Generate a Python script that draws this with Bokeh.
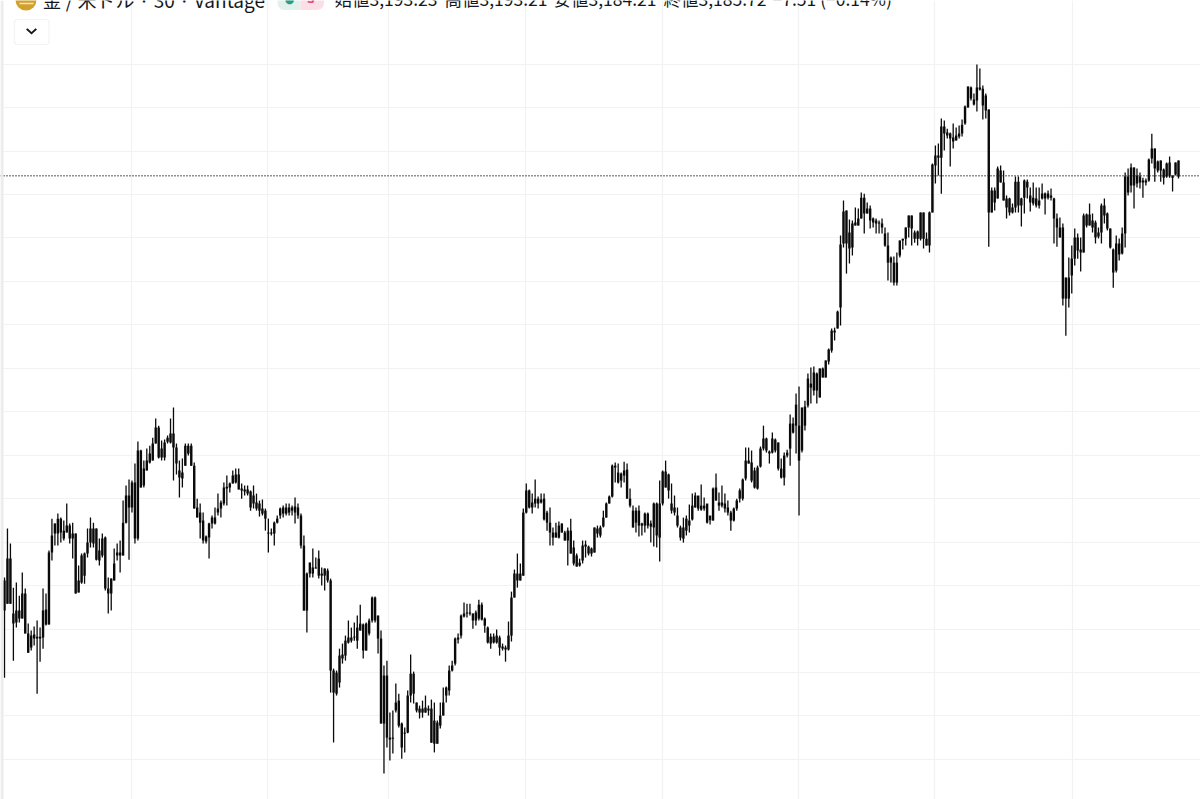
from bokeh.plotting import figure
from bokeh.embed import file_html
from bokeh.resources import INLINE
from bokeh.models import Label, Span, BoxAnnotation, PolyAnnotation, FixedTicker, Range1d

title_text = "金 / 米ドル · 30 · Vantage"
ohlc_parts = ["始値3,193.23", "高値3,193.21", "安値3,184.21", "終値3,185.72", "−7.51 (−0.14%)"]
last_close = 3185.72
price_ticks = [2850, 2875, 2900, 2925, 2950, 2975, 3000, 3025, 3050, 3075, 3100, 3125, 3150, 3175, 3200, 3225, 3250]
session_ticks = [42.7, 88.7, 129.5, 175.7, 221.9, 267.8, 313.7, 360.2]

highs = [
2954.6,2982.8,2974.2,2948.8,2951.7,2944.2,2957.5,2948.3,2928.1,2924.1,
2926.4,2929.9,2925.8,2948.3,2945.4,2970.1,2988.5,2985.7,2991.4,2989.1,
2987.4,2997.2,2985.7,2986.2,2979.9,2961.5,2968.4,2969.0,2982.8,2989.1,
2986.2,2982.8,2977.0,2979.9,2978.2,2954.6,2954.0,2971.3,2974.2,2975.9,
2998.9,3007.5,3011.0,3010.4,3020.2,3032.9,3028.2,3021.9,3028.8,3030.5,
3035.1,3046.1,3042.0,3033.4,3034.0,3036.3,3046.1,3052.4,3031.7,3021.9,
3023.1,3031.7,3031.7,3031.7,3020.8,3000.0,2997.2,2992.0,2978.8,2986.2,
2990.3,2994.9,3002.9,2998.9,3009.3,3013.3,3009.3,3016.2,3017.3,3017.3,
3008.7,3007.5,3007.5,3004.7,3007.5,3002.9,2998.9,2999.5,2994.3,2988.5,
2982.8,2986.8,2990.3,2994.9,2996.0,2997.2,2997.2,2996.0,3000.6,2997.2,
2991.4,2978.8,2957.5,2963.2,2971.3,2966.1,2970.1,2960.4,2959.8,2959.8,
2954.0,2902.2,2901.1,2913.7,2916.6,2921.2,2929.9,2925.8,2928.7,2932.7,
2939.0,2928.1,2928.7,2931.0,2943.7,2943.7,2932.7,2924.1,2904.0,2906.8,
2876.9,2878.1,2893.6,2887.8,2871.2,2868.3,2889.6,2910.3,2900.5,2882.7,
2880.9,2883.8,2886.7,2881.0,2884.4,2882.7,2872.3,2882.7,2891.3,2891.9,
2904.0,2906.8,2920.1,2922.4,2933.3,2940.2,2939.6,2939.6,2933.9,2935.6,
2941.9,2940.2,2931.6,2926.4,2922.4,2922.4,2924.7,2921.2,2916.6,2915.5,
2929.3,2946.5,2959.2,2968.4,2962.7,2994.3,3008.7,3005.2,3002.9,3011.0,
3001.2,3002.9,3002.9,2993.1,2994.9,2983.4,2986.2,2986.8,2985.7,2981.6,
2983.4,2988.5,2975.9,2968.4,2965.5,2975.9,2975.9,2973.0,2971.9,2983.4,
2984.5,2984.5,2993.1,2997.8,3001.8,3019.6,3020.8,3020.2,3015.0,3021.3,
3020.2,3005.8,2996.0,2994.9,2996.0,2986.2,2992.0,2992.0,2987.4,2997.8,
2997.8,3010.4,3016.2,3021.9,3014.4,3008.7,3001.8,2994.9,2984.5,2989.1,
2990.3,2996.6,3002.9,3003.5,3000.0,3008.1,3000.6,2996.0,2987.4,3006.4,
3014.4,3003.5,3007.5,3002.9,2998.9,2993.1,2994.9,3000.0,3005.8,3011.6,
3029.4,3029.4,3027.7,3017.9,3019.0,3030.0,3042.0,3035.1,3027.7,3038.0,
3034.6,3032.3,3023.1,3026.5,3028.2,3048.4,3046.7,3060.5,3064.5,3052.4,
3056.4,3072.0,3075.4,3076.0,3072.6,3074.9,3075.4,3079.5,3086.4,3097.9,
3098.4,3108.2,3151.4,3171.5,3165.8,3160.6,3160.0,3167.5,3166.9,3176.1,
3175.5,3170.4,3168.6,3161.7,3161.2,3160.0,3161.2,3156.0,3153.1,3139.3,
3139.3,3141.6,3148.5,3149.6,3156.0,3162.9,3162.9,3154.3,3154.3,3164.6,
3164.6,3153.1,3165.2,3192.8,3203.2,3204.3,3218.7,3217.6,3212.9,3210.7,
3215.8,3213.5,3214.7,3218.1,3226.2,3237.1,3237.1,3233.1,3249.8,3247.5,
3237.7,3233.1,3223.9,3179.0,3179.0,3191.1,3191.7,3188.8,3174.4,3173.2,
3169.8,3185.3,3185.3,3173.2,3183.6,3183.6,3179.0,3181.9,3179.0,3179.0,
3181.3,3176.1,3177.3,3178.4,3173.2,3164.0,3161.7,3158.3,3127.2,3138.7,
3145.6,3155.4,3152.5,3150.2,3164.0,3164.0,3169.8,3164.0,3160.0,3156.0,
3169.8,3172.7,3164.6,3155.4,3143.9,3151.4,3149.7,3156.0,3187.6,3189.9,
3192.8,3190.5,3189.9,3187.6,3184.7,3184.2,3195.7,3210.0,3201.4,3194.5,
3194.5,3189.9,3193.4,3196.8,3185.9,3193.4,3194.5]

lows = [
2897.0,2939.6,2939.6,2906.8,2925.8,2928.7,2931.0,2922.4,2911.4,2912.6,
2915.5,2887.8,2906.2,2913.7,2927.0,2927.6,2964.4,2973.0,2973.0,2974.7,
2975.9,2980.5,2974.2,2965.5,2945.4,2946.0,2951.1,2951.1,2966.1,2971.9,
2971.9,2964.4,2961.5,2966.1,2947.1,2933.9,2935.6,2952.9,2964.4,2957.5,
2967.3,2985.7,2964.9,2992.0,2974.2,2975.9,3006.4,3006.4,3016.2,3020.2,
3021.9,3031.7,3023.1,3021.9,3021.9,3031.7,3031.7,3010.4,3013.9,3000.6,
3006.4,3019.0,3024.8,3019.0,2994.3,2989.1,2977.0,2974.2,2974.2,2965.5,
2982.8,2985.1,2990.3,2989.1,2996.0,2996.0,3003.5,3008.7,3008.7,3005.2,
3000.0,3001.8,3001.8,2993.1,2994.3,2993.1,2989.7,2990.3,2981.6,2969.0,
2978.8,2973.0,2985.7,2988.5,2989.1,2990.3,2990.3,2990.3,2985.7,2988.5,
2971.3,2935.6,2923.0,2954.6,2954.6,2959.8,2954.0,2950.0,2947.1,2951.7,
2888.4,2859.7,2886.7,2891.3,2905.1,2906.8,2916.6,2917.2,2918.3,2913.7,
2924.1,2908.0,2912.6,2921.2,2928.7,2928.7,2910.9,2870.6,2841.8,2856.8,
2849.3,2853.3,2876.9,2868.3,2850.4,2854.0,2865.0,2882.7,2882.1,2877.0,
2873.5,2874.0,2876.9,2875.2,2859.6,2854.0,2859.0,2867.7,2875.2,2882.7,
2886.7,2900.5,2904.0,2916.6,2919.5,2931.6,2931.6,2932.7,2925.2,2927.0,
2929.9,2929.9,2922.9,2916.6,2913.7,2916.6,2916.6,2909.7,2912.6,2906.2,
2912.6,2917.8,2943.1,2948.8,2952.9,2955.7,2991.4,2994.3,2991.4,2994.9,
2994.3,2997.2,2987.4,2981.6,2973.0,2973.0,2977.6,2977.0,2980.5,2975.9,
2961.5,2968.4,2961.5,2960.9,2960.9,2962.7,2966.1,2967.3,2966.7,2969.0,
2977.6,2977.6,2983.4,2989.1,2997.2,3000.6,3009.3,3008.7,3006.4,3009.3,
3000.0,2994.9,2983.4,2980.5,2978.2,2978.8,2980.5,2982.8,2974.7,2972.4,
2971.9,2963.8,2996.0,3006.4,3000.0,2991.4,2990.3,2983.4,2975.9,2974.7,
2978.8,2980.5,2987.4,2994.9,2993.1,2993.1,2993.1,2985.7,2985.1,2987.4,
2998.9,2993.1,2994.9,2992.0,2990.3,2981.6,2986.8,2993.1,2997.8,2998.9,
3010.4,3020.2,3009.3,3005.8,3005.2,3017.9,3027.7,3026.5,3020.2,3026.0,
3026.5,3016.2,3011.6,3007.5,3023.7,3019.0,3037.5,3026.0,2990.3,3026.5,
3039.2,3052.4,3054.7,3059.3,3054.7,3058.2,3069.7,3069.7,3077.2,3084.0,
3091.0,3097.9,3099.6,3144.5,3129.5,3135.3,3139.9,3157.1,3157.1,3161.2,
3152.5,3164.0,3155.4,3156.0,3152.5,3152.5,3152.5,3145.0,3125.5,3124.4,
3122.6,3122.6,3138.7,3143.3,3145.6,3150.2,3145.6,3147.3,3145.6,3148.5,
3143.9,3145.6,3141.6,3164.6,3181.3,3185.9,3175.5,3200.3,3207.2,3191.1,
3201.4,3206.0,3207.2,3208.4,3215.2,3225.0,3229.1,3226.2,3222.7,3234.8,
3218.1,3218.7,3145.0,3164.6,3165.8,3172.7,3181.9,3171.5,3161.2,3162.9,
3164.0,3164.6,3164.6,3156.6,3164.0,3172.7,3165.2,3168.6,3167.5,3166.9,
3172.1,3163.5,3172.1,3171.5,3146.8,3145.0,3150.2,3111.1,3093.8,3110.0,
3118.0,3134.1,3138.1,3130.7,3141.6,3156.0,3157.1,3153.1,3146.8,3149.7,
3146.8,3158.3,3154.3,3143.9,3121.4,3130.1,3137.0,3140.5,3144.5,3174.4,
3176.1,3166.9,3179.0,3178.4,3173.2,3180.2,3182.4,3192.8,3182.4,3187.6,
3182.4,3180.7,3184.7,3184.7,3176.7,3185.9,3184.2]

body_top = [
2952.9,2965.5,2965.5,2933.9,2935.6,2935.6,2945.4,2945.4,2922.4,2921.2,
2921.8,2920.6,2920.6,2935.6,2936.2,2969.0,2978.8,2985.7,2988.5,2988.5,
2981.6,2984.5,2984.5,2979.9,2979.9,2952.9,2967.3,2968.4,2974.7,2982.8,
2982.8,2982.8,2970.1,2977.0,2977.6,2948.3,2954.0,2962.7,2969.0,2969.0,
2986.2,3001.8,3001.8,3009.3,3009.3,3027.7,3027.7,3017.3,3021.9,3026.0,
3031.7,3040.9,3040.9,3028.8,3032.3,3035.1,3037.5,3037.5,3029.4,3016.2,
3015.0,3030.5,3030.5,3030.5,3019.0,2994.9,2992.0,2987.4,2978.2,2985.7,
2989.1,2989.1,2994.3,2997.8,3006.4,3006.9,3008.7,3013.3,3013.9,3013.9,
3005.8,3005.2,3005.2,3004.1,3001.8,2997.8,2997.2,2994.3,2993.1,2980.5,
2980.5,2986.2,2988.5,2994.3,2994.9,2994.9,2994.9,2994.9,2995.5,2994.9,
2990.3,2973.0,2956.9,2963.2,2960.4,2960.4,2965.5,2956.9,2959.8,2958.6,
2952.9,2901.1,2899.9,2909.7,2910.3,2918.3,2920.1,2920.1,2920.6,2925.8,
2928.1,2927.6,2928.1,2929.9,2943.1,2943.1,2932.7,2919.5,2898.2,2898.2,
2862.5,2862.5,2882.7,2883.8,2870.6,2865.4,2886.7,2899.3,2899.3,2882.7,
2879.2,2879.2,2879.8,2879.2,2879.2,2872.3,2871.2,2875.2,2882.7,2891.3,
2901.1,2904.0,2919.5,2920.1,2932.7,2933.9,2934.5,2934.5,2933.9,2934.5,
2939.0,2939.0,2931.0,2925.8,2920.6,2920.6,2921.2,2920.1,2914.9,2914.3,
2921.2,2943.1,2956.9,2956.9,2956.9,2992.0,3004.7,3004.7,2997.8,3000.0,
3000.0,2999.5,3000.0,2992.0,2986.2,2980.5,2980.5,2984.5,2985.7,2980.5,
2981.6,2981.6,2971.9,2967.3,2963.2,2973.0,2973.6,2972.4,2971.3,2983.4,
2982.8,2983.4,2989.1,2997.2,3001.2,3019.0,3019.0,3015.0,3014.4,3016.2,
3016.7,3000.0,2993.1,2993.1,2993.1,2985.7,2991.4,2991.4,2985.7,2997.2,
2997.2,2997.2,3015.6,3015.6,3013.9,2997.2,2994.9,2990.3,2983.4,2983.4,
2988.5,2987.4,2996.0,3001.8,3001.8,2996.0,2996.0,2997.2,2990.3,3005.8,
3006.4,2997.8,2997.8,2997.2,2994.9,2992.0,2994.3,2998.9,3004.7,3011.0,
3021.9,3021.9,3020.8,3016.2,3017.9,3028.8,3034.6,3034.6,3027.1,3034.6,
3034.0,3032.3,3017.3,3024.8,3026.5,3043.2,3043.2,3054.1,3042.0,3052.4,
3053.0,3069.1,3066.2,3072.6,3072.0,3074.9,3074.9,3079.5,3085.8,3096.7,
3096.7,3107.6,3146.2,3165.2,3165.8,3153.1,3158.3,3158.9,3161.2,3173.2,
3173.2,3166.9,3166.9,3161.2,3160.0,3158.9,3158.3,3152.5,3145.6,3138.7,
3135.8,3135.8,3148.5,3149.6,3156.0,3162.9,3162.9,3153.1,3153.7,3164.6,
3164.6,3149.6,3164.6,3192.2,3197.4,3197.4,3214.1,3214.1,3210.7,3210.1,
3207.8,3208.9,3210.1,3215.2,3225.6,3237.1,3236.5,3229.6,3236.5,3236.5,
3235.9,3231.9,3223.9,3177.3,3177.3,3189.9,3188.8,3181.9,3172.7,3172.7,
3167.5,3182.4,3182.4,3172.7,3183.0,3182.4,3174.4,3173.2,3172.7,3171.5,
3175.6,3175.6,3175.6,3174.4,3172.7,3161.2,3156.0,3156.0,3127.2,3127.2,
3138.1,3150.2,3150.2,3143.3,3162.9,3163.5,3163.5,3160.0,3158.9,3153.1,
3168.6,3168.6,3164.0,3155.4,3143.3,3146.8,3146.8,3152.5,3185.3,3185.3,
3190.5,3190.5,3185.9,3185.3,3183.0,3183.0,3195.1,3201.4,3201.4,3194.0,
3194.5,3189.4,3192.8,3193.4,3185.9,3193.4,3194.5]

body_bot = [
2935.6,2939.6,2939.6,2928.1,2928.7,2931.0,2931.0,2922.4,2911.4,2914.3,
2919.5,2919.5,2919.5,2920.1,2927.6,2927.6,2969.0,2979.9,2979.9,2980.5,
2977.0,2980.5,2977.0,2977.0,2945.4,2946.0,2951.7,2955.7,2968.4,2974.7,
2974.2,2964.9,2964.4,2967.3,2948.3,2945.4,2945.4,2952.9,2967.3,2967.3,
2967.3,2986.2,2994.9,2994.9,2977.0,2977.0,3006.4,3007.5,3016.2,3020.8,
3021.9,3031.7,3023.7,3023.7,3023.7,3032.8,3032.3,3029.4,3020.2,3012.1,
3011.6,3019.0,3026.0,3019.0,2994.3,2989.1,2986.2,2975.9,2975.3,2977.6,
2985.7,2985.7,2992.0,2994.3,2997.2,3005.8,3006.4,3008.7,3009.3,3005.2,
3004.7,3004.1,3002.9,2994.9,2997.2,2994.3,2993.1,2991.4,2988.5,2979.9,
2979.9,2979.9,2986.2,2990.3,2991.4,2991.4,2992.0,2993.1,2992.0,2990.3,
2973.0,2935.6,2935.6,2956.9,2956.9,2959.8,2955.7,2955.7,2955.7,2952.9,
2901.1,2888.4,2887.8,2894.2,2908.0,2909.7,2917.2,2918.3,2920.1,2918.3,
2924.1,2912.6,2912.6,2922.4,2929.9,2929.9,2919.5,2870.6,2870.6,2862.5,
2861.4,2861.9,2878.1,2869.4,2856.8,2864.8,2865.4,2886.7,2887.8,2878.1,
2876.9,2876.9,2876.9,2878.1,2859.6,2859.0,2859.0,2869.4,2875.2,2886.7,
2889.6,2901.1,2905.1,2918.9,2921.2,2932.2,2933.9,2933.9,2929.9,2929.9,
2931.0,2930.4,2926.9,2917.2,2916.6,2917.2,2917.2,2914.3,2913.7,2913.2,
2913.2,2921.2,2943.1,2952.9,2952.9,2955.7,2992.0,2994.9,2994.9,2997.2,
2997.2,2997.8,2988.0,2986.2,2980.5,2977.6,2977.6,2977.6,2980.5,2975.9,
2975.9,2968.4,2962.7,2960.9,2961.5,2964.4,2972.4,2968.4,2968.4,2969.0,
2979.9,2978.8,2984.0,2989.1,2997.2,3001.2,3017.9,3009.3,3010.4,3013.3,
3000.0,2996.0,2983.4,2986.2,2984.5,2984.5,2984.5,2984.5,2983.9,2983.4,
2978.8,2977.6,2997.2,3006.4,3004.7,2993.1,2992.0,2984.5,2977.6,2977.0,
2981.6,2984.5,2988.0,2994.9,2994.3,2993.7,2994.3,2986.2,2987.4,2987.4,
2998.9,2996.0,2996.0,2994.3,2992.0,2987.4,2987.4,2994.3,3000.0,3000.0,
3011.6,3020.2,3010.4,3006.4,3005.8,3018.5,3028.8,3027.7,3026.0,3026.5,
3027.7,3017.3,3012.1,3012.1,3024.8,3028.8,3038.0,3042.0,3021.9,3027.7,
3042.0,3053.6,3063.9,3062.2,3062.2,3058.2,3069.7,3069.7,3078.9,3085.2,
3095.6,3097.9,3110.0,3146.8,3146.8,3143.9,3144.5,3157.1,3157.1,3161.2,
3164.0,3164.0,3160.0,3158.9,3158.3,3158.3,3156.0,3145.6,3135.8,3135.8,
3124.3,3124.3,3139.9,3148.5,3149.6,3156.0,3155.4,3149.6,3149.6,3149.6,
3149.6,3145.6,3145.6,3164.6,3191.7,3196.2,3196.2,3210.1,3208.9,3207.2,
3205.5,3206.0,3208.4,3210.1,3215.8,3225.0,3230.2,3226.8,3229.1,3235.4,
3226.2,3223.3,3164.6,3164.6,3170.4,3172.7,3181.9,3171.5,3167.5,3164.6,
3164.6,3167.5,3168.6,3168.6,3173.2,3179.0,3170.4,3169.8,3168.6,3168.6,
3172.7,3172.7,3173.2,3173.2,3161.2,3156.0,3150.2,3115.1,3115.1,3115.1,
3128.4,3138.1,3142.8,3141.6,3141.6,3157.1,3157.1,3156.0,3150.2,3150.8,
3153.1,3162.9,3155.4,3144.5,3130.1,3131.2,3140.5,3141.0,3152.5,3176.1,
3180.2,3180.2,3181.3,3181.9,3181.9,3181.9,3183.0,3195.7,3189.9,3188.8,
3188.8,3184.7,3185.3,3185.9,3184.7,3186.5,3185.3]

n = min(len(highs), len(lows), len(body_top), len(body_bot))
idx = list(range(n))

W, H = 1200, 799
first_px, last_px = 4.0, 1178.0
step = (last_px - first_px) / 396
ppx = 25 / 43.45
top_price = 3175 + 194 * ppx
sx = lambda px: (px - first_px) / step
sy = lambda py: top_price - py * ppx

p = figure(width=W, height=H, output_backend="svg", toolbar_location=None,
           x_range=Range1d(sx(0), sx(W)), y_range=Range1d(sy(H), sy(0)),
           min_border=0, outline_line_color=None,
           background_fill_color="white", border_fill_color="white")
p.xaxis.visible = False
p.yaxis.visible = False
p.xgrid.ticker = FixedTicker(ticks=session_ticks)
p.ygrid.ticker = FixedTicker(ticks=price_ticks)
for g in (p.xgrid, p.ygrid):
    g.grid_line_color = "#f2f2f2"
    g.grid_line_width = 1.2

p.add_layout(Span(location=last_close, dimension="width", line_color="#222222",
                  line_dash="1 2", line_width=1.5))

p.segment(x0=idx, x1=idx, y0=lows[:n], y1=highs[:n], line_color="#0a0a0a", line_width=1.3)
p.vbar(x=idx, width=2.4 / step, top=body_top[:n], bottom=body_bot[:n],
       fill_color="#0a0a0a", line_color=None)

# left edge strip
p.add_layout(BoxAnnotation(left=0, right=3, top=H, bottom=0, left_units="screen", right_units="screen",
                           top_units="screen", bottom_units="screen",
                           fill_color="#ececec", fill_alpha=1, line_color=None))

# header decorations
p.scatter(x=[sx(25.5)], y=[sy(-0.5)], size=21, fill_color="#d2a02c", line_color=None)
p.segment(x0=[sx(19)], x1=[sx(33)], y0=[sy(3)], y1=[sy(3)], line_color="#f6e6b8", line_width=1.5)
p.add_layout(BoxAnnotation(left=sx(277), right=sx(300), top=sy(-6), bottom=sy(9.5), fill_color="#e2f1ec",
                           fill_alpha=1, line_color=None, border_radius=(0, 0, 0, 7)))
p.add_layout(BoxAnnotation(left=sx(300), right=sx(323.5), top=sy(-6), bottom=sy(9.5), fill_color="#fbdfe7",
                           fill_alpha=1, line_color=None, border_radius=(0, 0, 7, 0)))
p.add_layout(Label(x=sx(289), y=sy(-1), text="●", text_font="DejaVu Sans", text_font_size="11px",
                   text_color="#2a9d83", text_align="center", text_baseline="middle"))
p.add_layout(Label(x=sx(310.5), y=sy(-1), text="S", text_font="DejaVu Sans", text_font_size="11px",
                   text_font_style="bold", text_color="#e0457b", text_align="center", text_baseline="middle"))

p.add_layout(Label(x=sx(42), y=sy(-1), text=title_text, text_font="Noto Sans CJK JP",
                   text_font_size="19px", text_color="#131722", text_baseline="alphabetic"))
for part, px in zip(ohlc_parts, [334, 444, 553, 663, 772]):
    p.add_layout(Label(x=sx(px), y=sy(-2.5), text=part, text_font="Noto Sans CJK JP",
                       text_font_size="17.5px", text_color="#131722", text_baseline="alphabetic"))

# dropdown button
p.add_layout(BoxAnnotation(left=sx(14), right=sx(48.5), top=sy(19), bottom=sy(44),
                           fill_color="white", fill_alpha=1, line_color="#d8d8d8",
                           line_width=1.2, border_radius=3))
p.add_layout(PolyAnnotation(xs=[sx(25.5), sx(27), sx(31), sx(35), sx(36.5), sx(31)],
                            ys=[sy(29), sy(27.8), sy(31.5), sy(27.8), sy(29), sy(34)],
                            fill_color="#131722", fill_alpha=1, line_color=None))

open("out.html", "w").write(file_html(p, INLINE))
